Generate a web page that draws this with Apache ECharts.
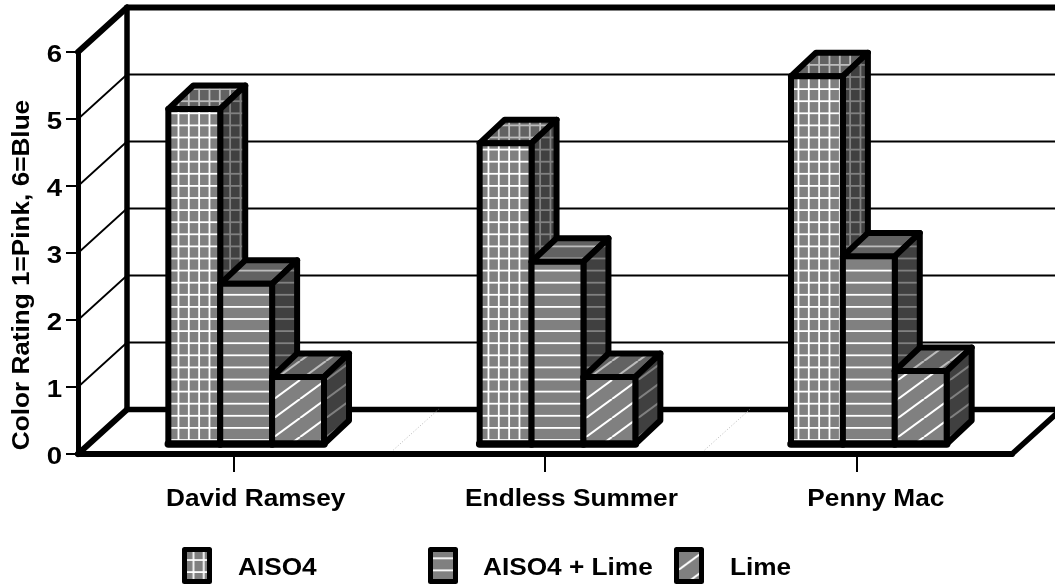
<!DOCTYPE html>
<html><head><meta charset="utf-8">
<style>html,body{margin:0;padding:0;background:#fff}#c{width:1055px;height:586px}</style>
<script src="https://cdn.jsdelivr.net/npm/echarts@6/dist/echarts.min.js"></script>
</head><body><div id="c"></div>
<script>
const categories = ['David Ramsey', 'Endless Summer', 'Penny Mac'];
const seriesNames = ['AISO4', 'AISO4 + Lime', 'Lime'];
const aiso4 = [5.0, 4.49, 5.49];
const aiso4Lime = [2.39, 2.72, 2.8];
const lime = [1.0, 1.0, 1.09];
const yTicks = [0, 1, 2, 3, 4, 5, 6];
const yTitle = 'Color Rating 1=Pink, 6=Blue';

const FONT = 'bold 23px "Liberation Sans", Arial, sans-serif';
const WALL = [49, -44.5], BAR_DEPTH = [25, -23.5], BAR_SHIFT = [12.5, -10];
const LABEL_NUDGE = [22, 26.5, 19.5];

function tile(kind, bg, fg) {
  const c = document.createElement('canvas');
  const W = kind === 'diag' ? 26 : 31, H = kind === 'diag' ? 19 : 121;
  c.width = W; c.height = H;
  const g = c.getContext('2d');
  g.fillStyle = bg; g.fillRect(0, 0, W, H);
  g.strokeStyle = fg; g.lineWidth = 1.8;
  if (kind === 'grid') for (let i = 0; i < 3; i++) {
    const x = 2.8 + i * W / 3;
    g.beginPath(); g.moveTo(x, 0); g.lineTo(x, H); g.stroke();
  }
  if (kind === 'grid' || kind === 'horiz') for (let i = 0; i < 10; i++) {
    const y = 4.4 + i * 12.1;
    g.beginPath(); g.moveTo(0, y); g.lineTo(W, y); g.stroke();
  }
  if (kind === 'diag') for (let k = -1; k < 4; k++) {
    g.lineWidth = 2.1;
    g.beginPath(); g.moveTo(26 * (0.54 + k), 0); g.lineTo(26 * (k - 0.46), 19); g.stroke();
  }
  return c;
}
const kinds = ['grid', 'horiz', 'diag'];
const pat = {};
kinds.forEach(k => {
  pat[k] = {
    front: {image: tile(k, '#808080', '#ffffff'), repeat: 'repeat'},
    top: {image: tile(k, '#626262', '#bcbcbc'), repeat: 'repeat'},
    side: {image: tile(k, '#404040', '#808080'), repeat: 'repeat'}
  };
});
const line = (a, b, w, c, extra) => ({
  type: 'line', silent: true,
  shape: {x1: a[0], y1: a[1], x2: b[0], y2: b[1]},
  style: Object.assign({stroke: c || '#000', lineWidth: w, lineCap: 'round'}, extra || {})
});
const poly = (pts, fill) => ({
  type: 'polygon', silent: true, shape: {points: pts},
  style: {fill, stroke: '#000', lineWidth: 6, lineJoin: 'round'}
});

function barRender(si) {
  return function (params, api) {
    const cat = api.value(0), val = api.value(1);
    const band = api.size([1, 0])[0], w = band / 6;
    const c0 = api.coord([cat, 0]), c1 = api.coord([cat, val]);
    const xl = c0[0] + BAR_SHIFT[0] + (si - 1.5) * w, xr = xl + w;
    const yb = c0[1] + BAR_SHIFT[1], yt = c1[1] + BAR_SHIFT[1];
    const dx = BAR_DEPTH[0], dy = BAR_DEPTH[1];
    const p = pat[kinds[si]];
    return {type: 'group', children: [
      poly([[xl, yt], [xr, yt], [xr + dx, yt + dy], [xl + dx, yt + dy]], p.top),
      poly([[xr, yb], [xr + dx, yb + dy], [xr + dx, yt + dy], [xr, yt]], p.side),
      poly([[xl, yb], [xr, yb], [xr, yt], [xl, yt]], p.front),
      line([xl, yb], [xr, yb], 7.5)
    ]};
  };
}
const barData = [aiso4, aiso4Lime, lime];

function frameRender(params, api) {
  const t = api.value(1), cs = params.coordSys;
  const y = api.coord([0, t])[1], x = cs.x, xr = cs.x + cs.width;
  const bx = x + WALL[0], by = y + WALL[1];
  const kids = [];
  if (t === 0) {
    kids.push(line([x, y], [bx, by], 6));
    kids.push(line([bx, by], [xr + WALL[0], by], 5.5));
    kids.push(line([xr, y], [xr + WALL[0], by], 5.5));
    kids.push(line([bx, by], [bx, by - 6 * 67], 5.5));
  } else if (t === 6) {
    kids.push(line([x, y], [bx, by], 6));
    kids.push(line([bx, by], [xr + WALL[0], by], 6));
  } else {
    kids.push(line([x, y], [bx, by], 1.8));
    kids.push(line([bx, by], [xr + WALL[0], by], 2.2));
  }
  kids.push({type: 'text', silent: true, x: 54.5, y: y + 3.5, scaleX: 1.2,
    style: {text: String(t), font: FONT, fill: '#000', textAlign: 'center', textVerticalAlign: 'middle'}});
  return {type: 'group', children: kids};
}
function catRender(params, api) {
  const i = api.value(0), c = api.coord([i, 0]), band = api.size([1, 0])[0];
  const kids = [{type: 'text', silent: true, x: c[0] + LABEL_NUDGE[i], y: c[1] + 45.5, scaleX: 1.14,
    style: {text: categories[i], font: FONT, fill: '#000', textAlign: 'center', textVerticalAlign: 'middle'}}];
  if (i > 0) {
    const x = c[0] - band / 2;
    kids.push(line([x + 4, c[1] - 4], [x + WALL[0], c[1] + WALL[1]], 1, '#b8b8b8', {lineDash: [1, 2], lineCap: 'butt'}));
  }
  return {type: 'group', children: kids};
}

const legendX = [182, 428, 674], legendText = [238, 483, 730];
const legendPhase = [[4.6, -1], [0, -2.7], [14.3, 0]];
const graphic = [{
  type: 'text', silent: true, x: 22.5, y: 275, rotation: Math.PI / 2, scaleX: 1.09,
  style: {text: yTitle, font: 'bold 24px "Liberation Sans", Arial, sans-serif', fill: '#000', textAlign: 'center', textVerticalAlign: 'middle'}
}];
seriesNames.forEach((n, i) => {
  const f = Object.assign({}, pat[kinds[i]].front, {x: legendPhase[i][0], y: legendPhase[i][1]});
  graphic.push({type: 'rect', silent: true, shape: {x: legendX[i] + 2.5, y: 549.5, width: 25, height: 32},
    style: {fill: f, stroke: '#000', lineWidth: 5, lineJoin: 'round'}});
  graphic.push({type: 'text', silent: true, x: legendText[i], y: 568.5, scaleX: 1.14,
    style: {text: n, font: FONT, fill: '#000', textAlign: 'left', textVerticalAlign: 'middle'}});
});

const chart = echarts.init(document.getElementById('c'), null, {renderer: 'canvas'});
chart.setOption({
  animation: false,
  backgroundColor: '#fff',
  grid: {left: 78, top: 52, width: 934, height: 402, containLabel: false},
  xAxis: {type: 'category', data: categories, boundaryGap: true,
    axisLine: {lineStyle: {color: '#000', width: 6}},
    axisTick: {show: true, alignWithLabel: true, length: 18, lineStyle: {color: '#000', width: 2}},
    axisLabel: {show: false}},
  yAxis: {type: 'value', min: 0, max: 6, interval: 1,
    axisLine: {show: true, lineStyle: {color: '#000', width: 5}},
    axisTick: {show: true, length: 12, lineStyle: {color: '#000', width: 2}},
    axisLabel: {show: false}, splitLine: {show: false}},
  graphic,
  series: [
    {type: 'custom', name: 'frame', z: 1, silent: true, renderItem: frameRender, data: yTicks.map(t => [0, t])},
    {type: 'custom', name: 'cats', z: 1, silent: true, renderItem: catRender, data: categories.map((c, i) => [i, 0])}
  ].concat(seriesNames.map((n, si) => ({
    type: 'custom', name: n, z: 3 + si, silent: true, renderItem: barRender(si),
    data: barData[si].map((v, i) => [i, v])
  })))
});
</script></body></html>
